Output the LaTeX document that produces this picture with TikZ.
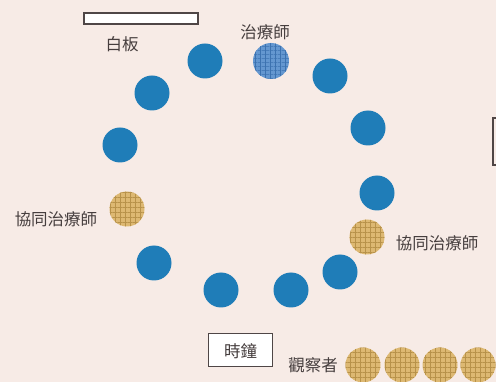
\documentclass[tikz,border=0pt]{standalone}
\usepackage{fontspec}
\newfontfamily\cjk{Noto Sans CJK TC}
\usetikzlibrary{patterns.meta}
\definecolor{bgc}{HTML}{F7EBE6}
\definecolor{bluec}{HTML}{1F7DB8}
\definecolor{therc}{HTML}{6497D0}
\definecolor{therd}{HTML}{3C72B0}
\definecolor{goldc}{HTML}{DDB872}
\definecolor{goldd}{HTML}{B8924A}
\definecolor{txtc}{HTML}{463E3E}
\definecolor{linec}{HTML}{4F4646}
\tikzset{
  seat/.style={circle, inner sep=0pt, minimum size=35pt, fill=bluec},
  gold/.style={circle, inner sep=0pt, minimum size=35pt, fill=goldc,
    postaction={pattern={Lines[angle=0,distance=5pt,line width=0.9pt]}, pattern color=goldd},
    postaction={pattern={Lines[angle=90,distance=5pt,line width=0.9pt]}, pattern color=goldd}},
  ther/.style={circle, inner sep=0pt, minimum size=36pt, fill=therc,
    postaction={pattern={Lines[angle=0,distance=4pt,line width=0.8pt]}, pattern color=therd},
    postaction={pattern={Lines[angle=90,distance=5pt,line width=0.6pt]}, pattern color=therd}},
  lbl/.style={text=txtc, font=\cjk\fontsize{16.5}{18}\selectfont, inner sep=1pt},
  obj/.style={draw=linec, line width=2pt, fill=white}
}
\begin{document}
\begin{tikzpicture}[x=1pt,y=-1pt]
\fill[bgc] (0,0) rectangle (496,382);
\useasboundingbox (0,0) rectangle (496,382);
% whiteboard
\node[obj, minimum width=114pt, minimum height=11pt, inner sep=0pt] (wb) at (140.5,19) {};
\node[lbl] (wbl) at (122,44) {白板};
% partial object right edge
\begin{scope}
\clip (0,0) rectangle (496,382);
\draw[linec, line width=2pt, fill=bgc] (493,118) rectangle (510,165);
\end{scope}
% therapist
\node[ther] (th) at (271,61) {};
\node[lbl] (thl) at (265,32) {治療師};
% blue seats
\node[seat] (s1) at (205,61) {};
\node[seat] (s2) at (152,93) {};
\node[seat] (s3) at (120,145) {};
\node[seat] (s4) at (330,76) {};
\node[seat] (s5) at (368,128) {};
\node[seat] (s6) at (377,193) {};
\node[seat] (s7) at (340,272) {};
\node[seat] (s8) at (291,290) {};
\node[seat] (s9) at (221,290) {};
\node[seat] (s10) at (154,263) {};
% co-therapists
\node[gold] (c1) at (127,209) {};
\node[lbl] (c1l) at (56,219) {協同治療師};
\node[gold] (c2) at (367,237) {};
\node[lbl] (c2l) at (437,243) {協同治療師};
% clock
\node[obj, minimum width=64pt, minimum height=33pt, inner sep=0pt, line width=1.6pt] (clk) at (240.5,350) {};
\node[lbl] (clkl) at (240.5,351) {時鐘};
% observers
\node[lbl] (obl) at (313,365) {觀察者};
\node[gold] (o1) at (363,365) {};
\node[gold] (o2) at (402,365) {};
\node[gold] (o3) at (440,365) {};
\node[gold] (o4) at (478,365) {};
\end{tikzpicture}
\end{document}
